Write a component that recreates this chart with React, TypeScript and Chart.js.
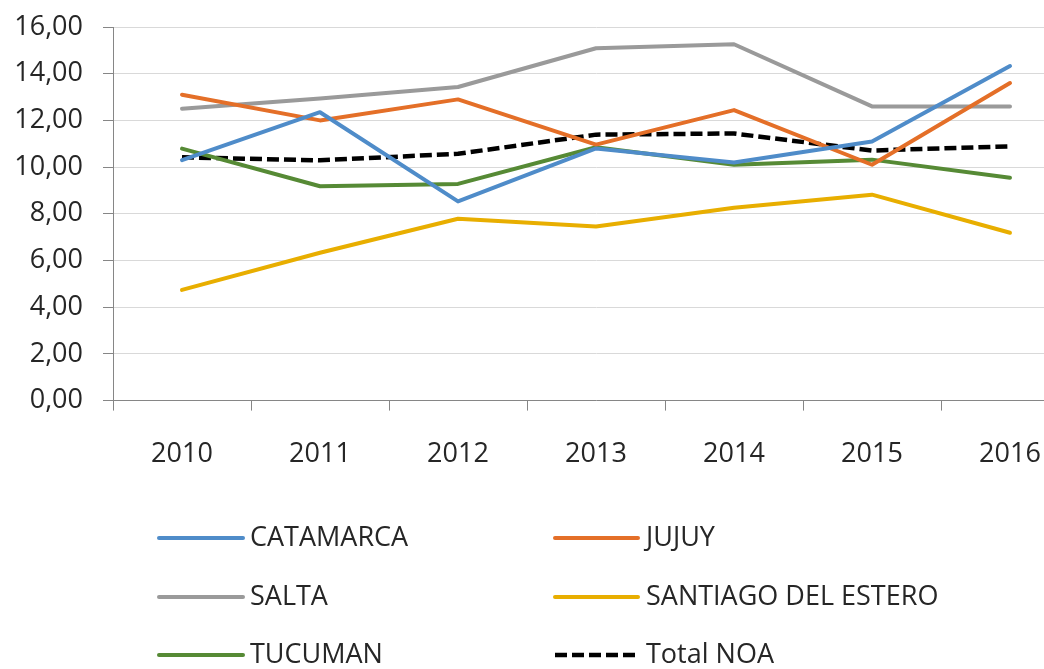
import React, { useEffect, useRef } from "react";
import { Chart, registerables } from "chart.js";

Chart.register(...registerables);

const categories = ["2010", "2011", "2012", "2013", "2014", "2015", "2016"];
const catamarca = [10.3, 12.35, 8.53, 10.8, 10.2, 11.1, 14.33];
const jujuy = [13.1, 12.0, 12.9, 10.96, 12.44, 10.1, 13.6];
const salta = [12.5, 12.94, 13.43, 15.09, 15.26, 12.6, 12.6];
const santiago = [4.74, 6.33, 7.79, 7.46, 8.26, 8.82, 7.19];
const tucuman = [10.79, 9.18, 9.28, 10.85, 10.1, 10.32, 9.54];
const totalNoa = [10.42, 10.29, 10.57, 11.39, 11.44, 10.71, 10.89];
const seriesNames = ["CATAMARCA", "JUJUY", "SALTA", "SANTIAGO DEL ESTERO", "TUCUMAN", "Total NOA"];
const yMin = 0;
const yMax = 16;
const yStep = 2;

const FONT = "'Open Sans', sans-serif";
const TEXT = "#262626";

const legendPlugin = {
  id: "gridLegend",
  afterDraw(chart: any) {
    const ctx = chart.ctx;
    const cols = [
      { x0: 159, x1: 243, tx: 250 },
      { x0: 555, x1: 638, tx: 646 },
    ];
    const rows = [538, 597, 655];
    ctx.save();
    chart.data.datasets.forEach((ds: any, i: number) => {
      const c = cols[i % 2];
      const y = rows[Math.floor(i / 2)];
      ctx.beginPath();
      ctx.strokeStyle = ds.borderColor;
      ctx.lineWidth = ds.borderWidth;
      ctx.lineCap = ds.borderDash && ds.borderDash.length ? "butt" : "round";
      ctx.setLineDash(ds.borderDash || []);
      ctx.moveTo(c.x0, y);
      ctx.lineTo(c.x1, y);
      ctx.stroke();
      ctx.setLineDash([]);
      ctx.fillStyle = TEXT;
      ctx.font = `27px ${FONT}`;
      ctx.textBaseline = "middle";
      ctx.textAlign = "left";
      ctx.fillText(ds.label, c.tx, y);
    });
    ctx.restore();
  },
};

export default function App() {
  const ref = useRef<HTMLCanvasElement>(null);
  useEffect(() => {
    if (!ref.current) return;
    const mk = (label: string, data: number[], color: string, dash?: number[]) => ({
      label,
      data,
      borderColor: color,
      backgroundColor: color,
      borderWidth: dash ? 4.5 : 4,
      borderDash: dash || [],
      borderCapStyle: dash ? "butt" : "round",
      borderJoinStyle: "round",
      pointRadius: 0,
      tension: 0,
      fill: false,
    });
    const chart = new Chart(ref.current, {
      type: "line",
      data: {
        labels: categories,
        datasets: [
          mk(seriesNames[0], catamarca, "#4F8CC9"),
          mk(seriesNames[1], jujuy, "#E46F28"),
          mk(seriesNames[2], salta, "#9A9A9A"),
          mk(seriesNames[3], santiago, "#E8AE00"),
          mk(seriesNames[4], tucuman, "#568A35"),
          mk(seriesNames[5], totalNoa, "#000000", [12, 5]),
        ] as any,
      },
      options: {
        animation: false,
        responsive: true,
        maintainAspectRatio: false,
        layout: { padding: { top: 27, right: 11, bottom: 170, left: 0 } },
        plugins: {
          legend: { display: false },
          tooltip: { enabled: false },
        },
        scales: {
          x: {
            offset: true,
            grid: {
              offset: true,
              drawOnChartArea: false,
              drawTicks: true,
              tickLength: 10,
              tickColor: "#868686",
              lineWidth: 1,
            },
            border: { color: "#868686", width: 1 },
            ticks: {
              color: TEXT,
              font: { family: FONT, size: 27 },
              padding: 28,
              maxRotation: 0,
              autoSkip: false,
            },
          },
          y: {
            min: yMin,
            max: yMax,
            afterFit: (scale: any) => {
              scale.width = 113;
              scale.paddingTop = 0;
              scale.paddingBottom = 0;
            },
            grid: {
              color: "#d9d9d9",
              lineWidth: 1,
              drawTicks: true,
              tickLength: 10,
              tickColor: "#868686",
            },
            border: { color: "#868686", width: 1 },
            ticks: {
              stepSize: yStep,
              color: TEXT,
              font: { family: FONT, size: 27 },
              padding: 20,
              callback: (v: any) => Number(v).toFixed(2).replace(".", ","),
            },
          },
        },
      },
      plugins: [legendPlugin],
    });
    return () => chart.destroy();
  }, []);
  return (
    <div
      style={{
        position: "absolute",
        left: 0,
        top: 0,
        width: 1044,
        height: 669,
        overflow: "hidden",
        background: "#fff",
      }}
    >
      <div style={{ position: "relative", width: 1090, height: 669 }}>
        <canvas ref={ref} />
      </div>
    </div>
  );
}
